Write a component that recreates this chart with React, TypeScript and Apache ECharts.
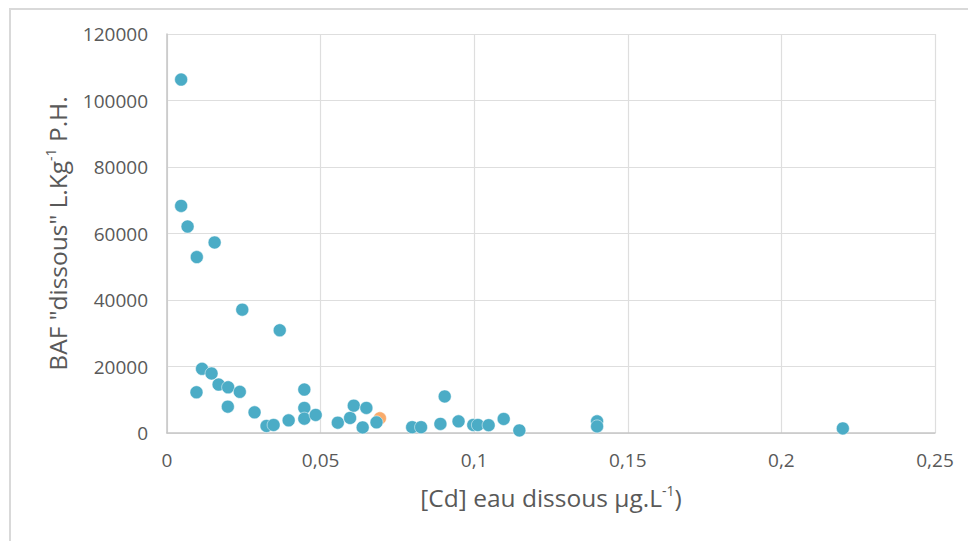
import React, { useEffect, useRef } from "react";
import * as echarts from "echarts";

const cdWater: number[] = [
  0.0046, 0.0046, 0.0067, 0.0155, 0.0097, 0.0245, 0.0367, 0.0114, 0.0145, 0.0096,
  0.0168, 0.0199, 0.0237, 0.0198, 0.0285, 0.0324, 0.0347, 0.0396, 0.0447, 0.0447,
  0.0447, 0.0484, 0.0556, 0.0596, 0.0608, 0.0649, 0.0637, 0.0682, 0.0798, 0.0827,
  0.089, 0.0904, 0.0949, 0.0997, 0.1012, 0.1047, 0.1096, 0.1147, 0.14, 0.14, 0.22,
];
const bafValues: number[] = [
  106300, 68300, 62100, 57300, 52900, 37100, 30900, 19300, 17900, 12250,
  14570, 13750, 12370, 7930, 6210, 2110, 2410, 3800, 13060, 7540,
  4310, 5430, 3110, 4520, 8230, 7540, 1690, 3200, 1750, 1750,
  2740, 11000, 3500, 2410, 2410, 2350, 4220, 780, 3500, 1990, 1390,
];
const highlightX: number[] = [0.0693];
const highlightY: number[] = [4400];

const xTicks = { min: 0, max: 0.25, interval: 0.05 };
const yTicks = { min: 0, max: 120000, interval: 20000 };

const FONT = "'Open Sans', 'Liberation Sans', sans-serif";
const TEXT = "#595959";

const nameRich = {
  n: { fontFamily: FONT, fontSize: 24.5, color: TEXT, lineHeight: 30, verticalAlign: "middle" },
  s: { fontFamily: FONT, fontSize: 14, color: TEXT, lineHeight: 14, verticalAlign: "middle", padding: [0, 0, 14, 0] },
};

export default function App() {
  const ref = useRef<HTMLDivElement>(null);
  useEffect(() => {
    if (!ref.current) return;
    const chart = echarts.init(ref.current, undefined, { renderer: "svg" });
    const main = cdWater.map((x, i) => [x, bafValues[i]]);
    const hl = highlightX.map((x, i) => [x, highlightY[i]]);
    chart.setOption({
      animation: false,
      backgroundColor: "#ffffff",
      graphic: [
        {
          type: "rect",
          shape: { x: 10, y: 9, width: 1000, height: 600 },
          style: { fill: "none", stroke: "#d9d9d9", lineWidth: 2 },
          silent: true,
        },
      ],
      grid: { left: 167, top: 34, width: 768, height: 399, containLabel: false },
      xAxis: {
        type: "value",
        min: xTicks.min,
        max: xTicks.max,
        interval: xTicks.interval,
        axisLine: { show: true, lineStyle: { color: "#c6c6c6", width: 1.5 } },
        axisTick: { show: false },
        splitLine: { show: true, lineStyle: { color: "#dedede", width: 1.2 } },
        axisLabel: {
          color: TEXT,
          fontFamily: FONT,
          fontSize: 19,
          margin: 17,
          formatter: (v: number) => String(Math.round(v * 100) / 100).replace(".", ","),
        },
        name: "{n|[Cd] eau dissous µg.L}{s|-1}{n|)}",
        nameLocation: "middle",
        nameGap: 49,
        nameTextStyle: { rich: nameRich },
      },
      yAxis: {
        type: "value",
        min: yTicks.min,
        max: yTicks.max,
        interval: yTicks.interval,
        axisLine: { show: true, lineStyle: { color: "#c6c6c6", width: 1.5 } },
        axisTick: { show: false },
        splitLine: { show: true, lineStyle: { color: "#dedede", width: 1.2 } },
        axisLabel: {
          color: TEXT,
          fontFamily: FONT,
          fontSize: 19,
          margin: 19,
          formatter: (v: number) => String(v),
        },
        name: "{n|BAF \"dissous\" L.Kg}{s|-1}{n| P.H.}",
        nameLocation: "middle",
        nameGap: 93,
        nameTextStyle: { rich: nameRich },
      },
      series: [
        {
          type: "scatter",
          data: hl,
          symbolSize: 13,
          itemStyle: { color: "#F79646", borderColor: "#ffffff", borderWidth: 0.5 },
          z: 1,
        },
        {
          type: "scatter",
          data: main,
          symbolSize: 13,
          itemStyle: { color: "#4BACC6", borderColor: "#ffffff", borderWidth: 0.5, opacity: 1 },
          z: 2,
        },
      ],
    });
    return () => chart.dispose();
  }, []);
  return (
    <div
      ref={ref}
      style={{ position: "fixed", left: 0, top: 0, width: 968, height: 541 }}
    />
  );
}
